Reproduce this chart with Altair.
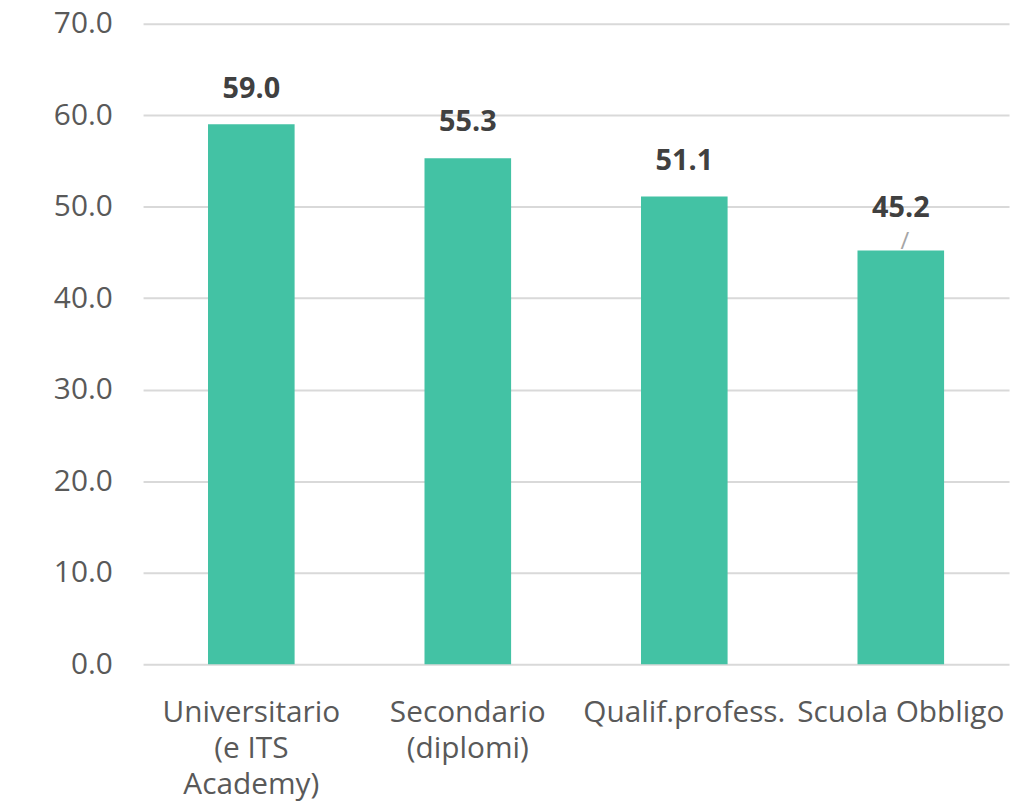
import altair as alt
import pandas as pd

categories = ["Universitario\n(e ITS\nAcademy)", "Secondario\n(diplomi)", "Qualif.profess.", "Scuola Obbligo"]
values = [59.0, 55.3, 51.1, 45.2]
y_ticks = [0, 10, 20, 30, 40, 50, 60, 70]
leader_label = ["Scuola Obbligo"]

df = pd.DataFrame({"cat": categories, "val": values})
df["lead"] = df["cat"].isin(leader_label)

FONT = "Open Sans"
xs = alt.X("cat:N", sort=categories)

x = alt.X("cat:N", sort=categories, title=None,
          scale=alt.Scale(paddingInner=0.6, paddingOuter=0.3),
          axis=alt.Axis(labelAngle=0, labelExpr="split(datum.label, '\\n')",
                        labelFontSize=30, labelColor="#595959", labelFont=FONT,
                        labelLineHeight=36, labelPadding=34, ticks=False, domain=False,
                        labelBaseline="top", labelLimit=0, labelOverlap=False))
y = alt.Y("val:Q", title=None,
          scale=alt.Scale(domain=[0, 70], nice=False),
          axis=alt.Axis(values=y_ticks, format=".1f", labelFontSize=30, labelColor="#595959",
                        labelFont=FONT, labelPadding=31, ticks=False, domain=False,
                        gridColor="#d9d9d9", gridWidth=2))

bars = alt.Chart(df).mark_bar(color="#43C2A4").encode(x=x, y=y)

labels = alt.Chart(df).transform_filter("!datum.lead").mark_text(
    font=FONT, fontSize=29, fontWeight="bold", color="#404040", baseline="alphabetic", dy=-27
).encode(x=xs, y="val:Q", text=alt.Text("val:Q", format=".1f"))

labels_lead = alt.Chart(df).transform_filter("datum.lead").mark_text(
    font=FONT, fontSize=29, fontWeight="bold", color="#404040", baseline="alphabetic", dy=-34
).encode(x=xs, y="val:Q", text=alt.Text("val:Q", format=".1f"))

leader = alt.Chart(df).transform_filter("datum.lead").mark_text(
    text="/", font=FONT, fontSize=24, color="#a6a6a6", baseline="alphabetic", dy=-2, dx=4
).encode(x=xs, y="val:Q")

chart = alt.layer(bars, labels, labels_lead, leader).properties(
    width=872, height=645,
    padding={"left": 136, "top": 13, "right": 5, "bottom": 140},
    autosize=alt.AutoSizeParams(type="none"),
    background="white",
).configure_view(stroke=None)

chart.save("out.html", embed_options={"renderer": "svg", "actions": False})
